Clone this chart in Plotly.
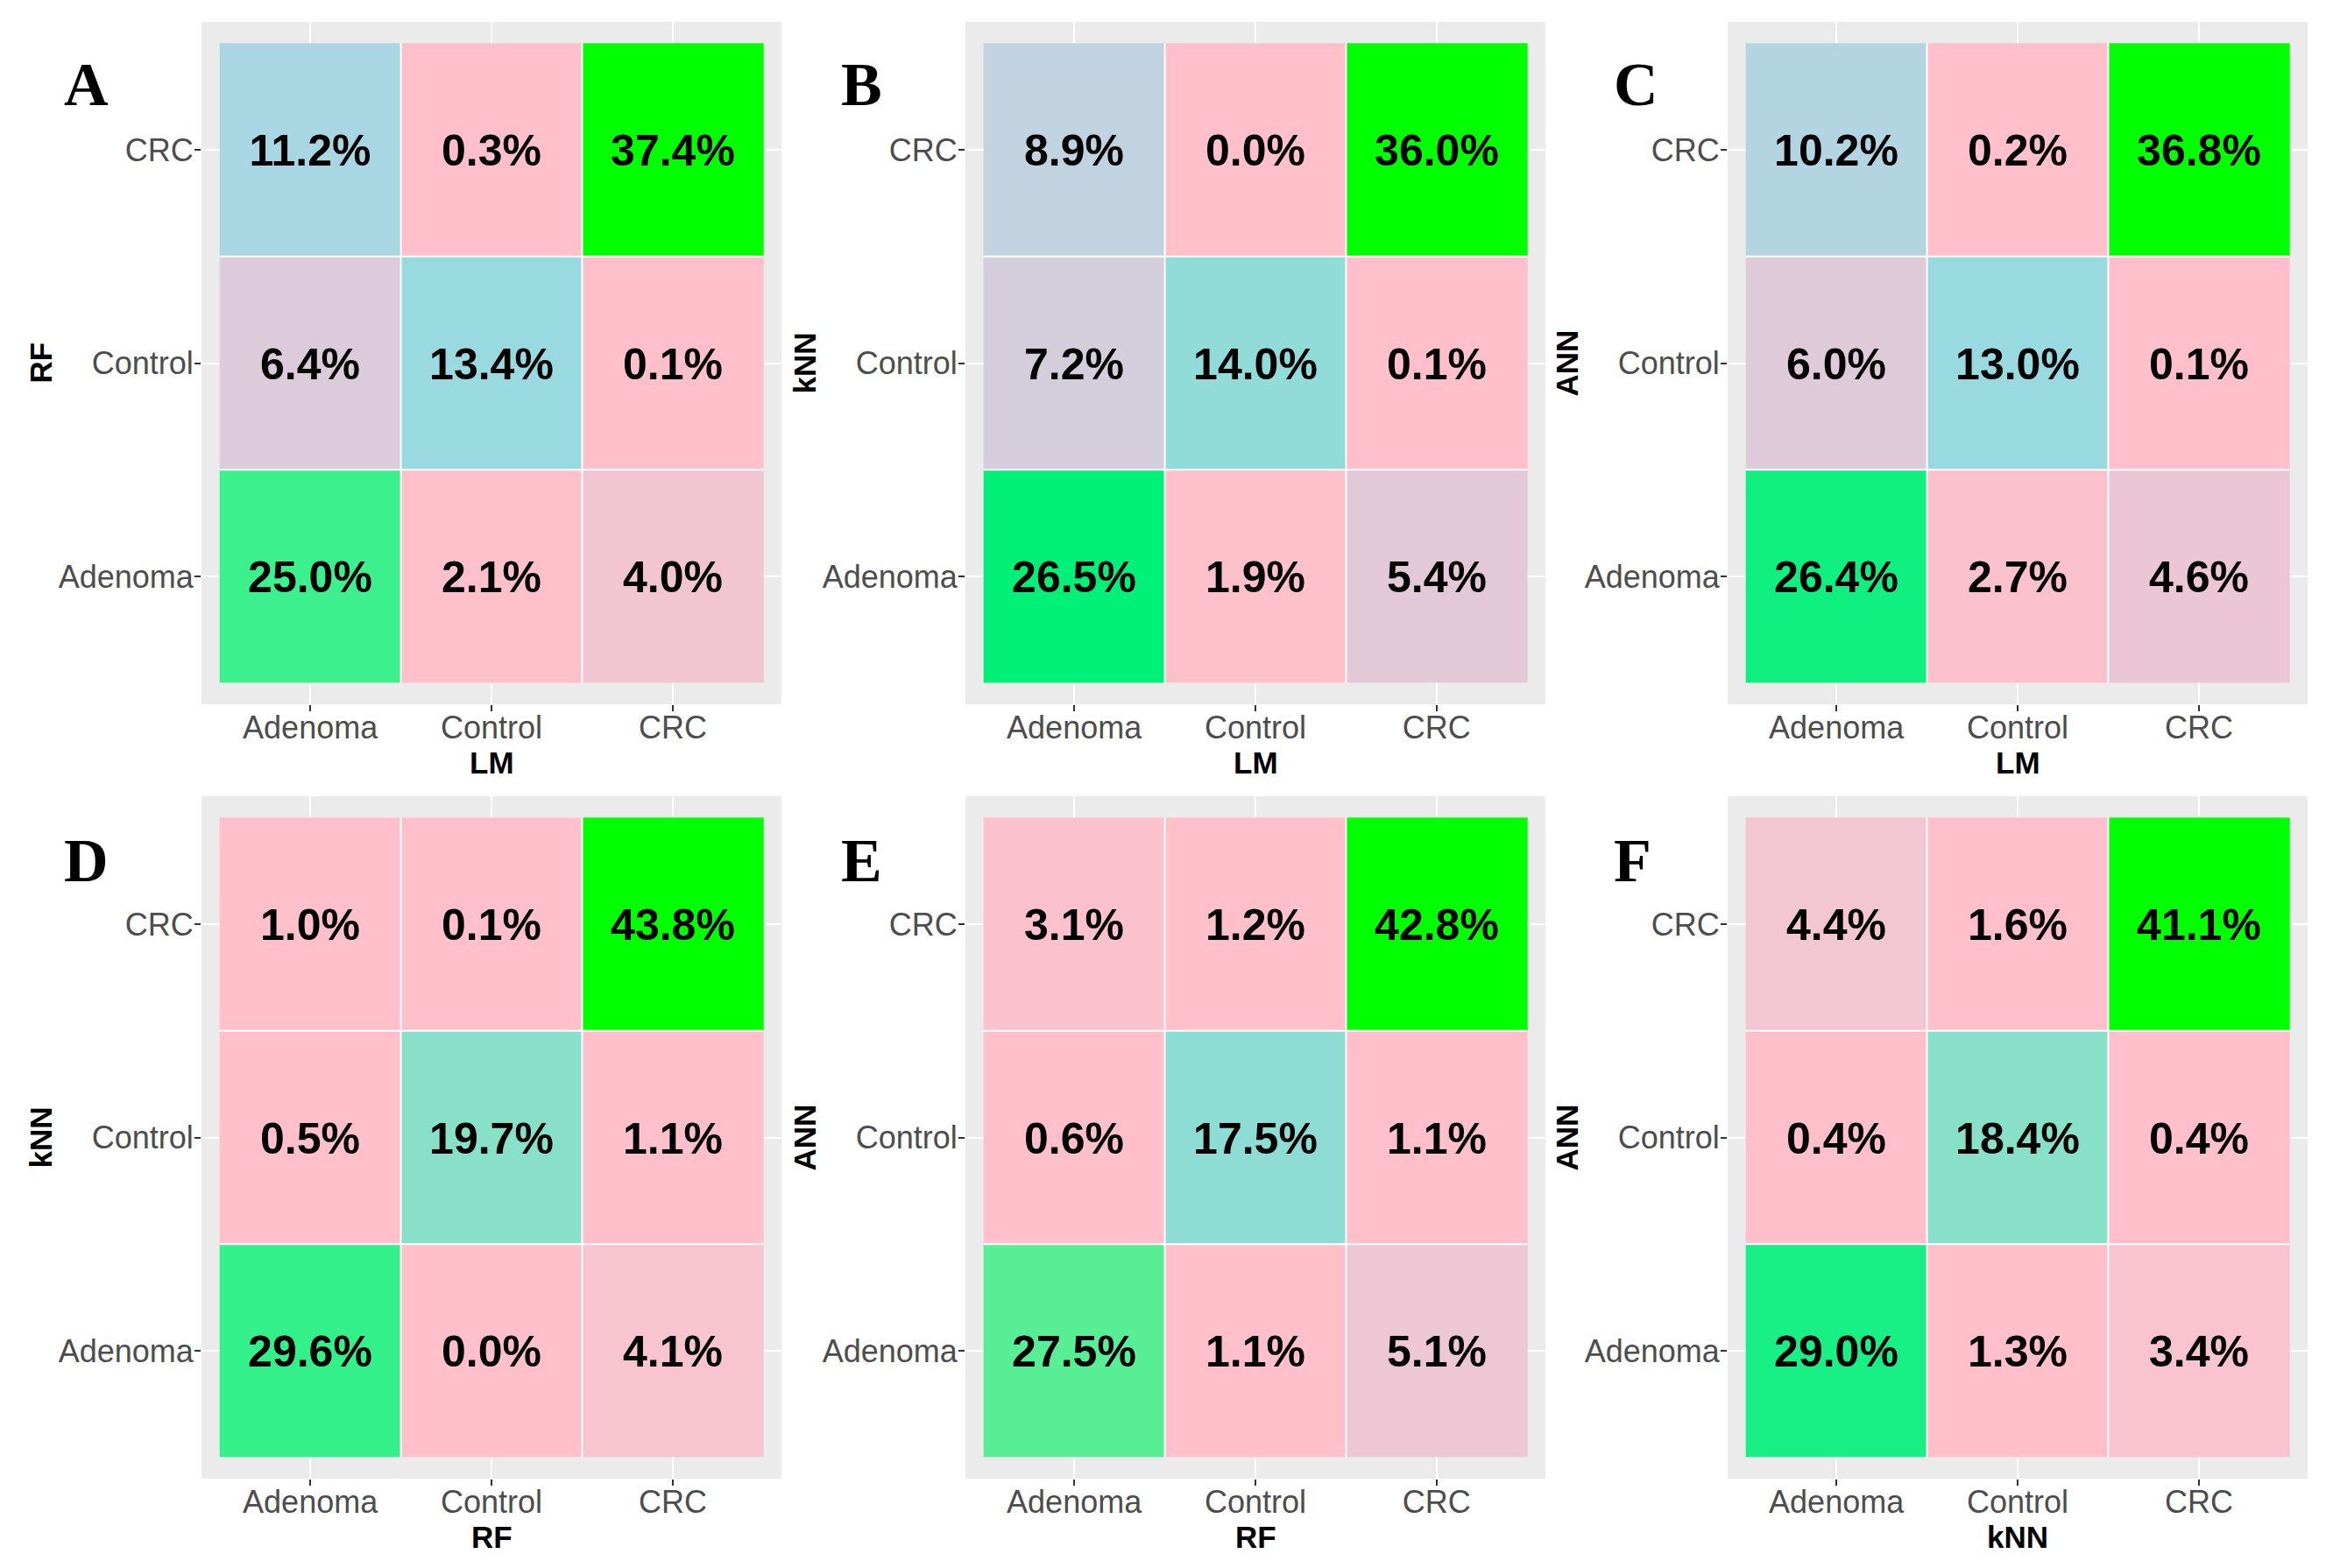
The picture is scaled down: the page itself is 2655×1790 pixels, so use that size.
import plotly.graph_objects as go

W, H = 2655, 1790

categories = ["Adenoma", "Control", "CRC"]

panel_letters = ["A", "B", "C", "D", "E", "F"]
x_titles = ["LM", "LM", "LM", "RF", "RF", "kNN"]
y_titles = ["RF", "kNN", "ANN", "kNN", "ANN", "ANN"]

# rows: Adenoma, Control, CRC (y); columns: Adenoma, Control, CRC (x)
values_A = [[25.0, 2.1, 4.0], [6.4, 13.4, 0.1], [11.2, 0.3, 37.4]]
values_B = [[26.5, 1.9, 5.4], [7.2, 14.0, 0.1], [8.9, 0.0, 36.0]]
values_C = [[26.4, 2.7, 4.6], [6.0, 13.0, 0.1], [10.2, 0.2, 36.8]]
values_D = [[29.6, 0.0, 4.1], [0.5, 19.7, 1.1], [1.0, 0.1, 43.8]]
values_E = [[27.5, 1.1, 5.1], [0.6, 17.5, 1.1], [3.1, 1.2, 42.8]]
values_F = [[29.0, 1.3, 3.4], [0.4, 18.4, 0.4], [4.4, 1.6, 41.1]]

panels = [values_A, values_B, values_C, values_D, values_E, values_F]

colorscale = [
    [0.00, "#FFC0CB"], [0.05, "#FFC0CB"], [0.094, "#F7C4D0"], [0.12, "#EDC7D4"],
    [0.171, "#DCCBDB"], [0.20, "#D4CDDC"], [0.247, "#C1D3E0"], [0.299, "#A8D6E2"],
    [0.358, "#98DAE0"], [0.409, "#8DDDD5"], [0.45, "#88E0C8"], [0.643, "#58EE96"],
    [0.676, "#33F08A"], [0.706, "#18F086"], [0.736, "#00F078"], [1.0, "#00FF00"],
]

# panel (gray area) geometry in pixels
col_x = [(230, 892), (1102, 1764), (1972, 2634)]
row_y = [(25, 804), (909, 1688)]
letter_x = [71, 958, 1840]
letter_y = [97, 982]

fig = go.Figure()
annotations = []
shapes = []
layout = {}

for i, vals in enumerate(panels):
    r, c = divmod(i, 3)
    k = "" if i == 0 else str(i + 1)
    x0, x1 = col_x[c]
    y0, y1 = row_y[r]
    zmax = max(max(row) for row in vals)
    z = [[v / zmax for v in row] for row in vals]
    text = [[f"{v:.1f}%" for v in row] for row in vals]
    fig.add_trace(go.Heatmap(
        x=categories, y=categories, z=z, text=text, texttemplate="%{text}",
        textfont=dict(family="Liberation Sans, Arial", size=50, color="black", weight="bold"),
        colorscale=colorscale, zmin=0, zmax=1, showscale=False,
        xaxis="x" + k, yaxis="y" + k, hoverinfo="skip",
    ))
    axis_common = dict(
        type="category", range=[-0.6, 2.6], showgrid=True, gridcolor="white", gridwidth=2,
        zeroline=False, ticks="outside", ticklen=7, tickwidth=2, tickcolor="#333333",
        tickfont=dict(family="Liberation Sans, Arial", size=36, color="#4D4D4D"),
        showline=False, fixedrange=True,
    )
    layout["xaxis" + k] = dict(axis_common, domain=[x0 / W, x1 / W], anchor="y" + k,
                               ticklabelstandoff=-12)
    layout["yaxis" + k] = dict(axis_common, domain=[1 - y1 / H, 1 - y0 / H], anchor="x" + k,
                               ticklabelstandoff=-6)
    # white tile borders
    for b in [0.5, 1.5]:
        shapes.append(dict(type="line", xref="x" + k, yref="y" + k, x0=b, x1=b, y0=-0.5, y1=2.5,
                           line=dict(color="white", width=2), layer="above"))
        shapes.append(dict(type="line", xref="x" + k, yref="y" + k, y0=b, y1=b, x0=-0.5, x1=2.5,
                           line=dict(color="white", width=2), layer="above"))
    # panel letters
    annotations.append(dict(text="<b>" + panel_letters[i] + "</b>", xref="paper", yref="paper",
                            x=letter_x[c] / W, y=1 - letter_y[r] / H, xanchor="left", yanchor="middle",
                            showarrow=False, font=dict(family="Liberation Serif, Times New Roman", size=70, color="black")))
    # axis titles
    annotations.append(dict(text="<b>" + x_titles[i] + "</b>", xref="paper", yref="paper",
                            x=((x0 + x1) / 2) / W, y=1 - (y1 + 66) / H, xanchor="center", yanchor="middle",
                            showarrow=False, font=dict(family="Liberation Sans, Arial", size=35, color="black")))
    annotations.append(dict(text="<b>" + y_titles[i] + "</b>", xref="paper", yref="paper",
                            x=(x0 - 184) / W, y=1 - ((y0 + y1) / 2) / H, xanchor="center", yanchor="middle",
                            textangle=-90, showarrow=False,
                            font=dict(family="Liberation Sans, Arial", size=35, color="black")))

fig.update_layout(
    width=W, height=H, margin=dict(l=0, r=0, t=0, b=0),
    paper_bgcolor="white", plot_bgcolor="#EBEBEB",
    annotations=annotations, shapes=shapes, showlegend=False, **layout,
)

fig.write_html("out.html", config={"displayModeBar": False},
               post_script="document.body.style.margin='0px';")
